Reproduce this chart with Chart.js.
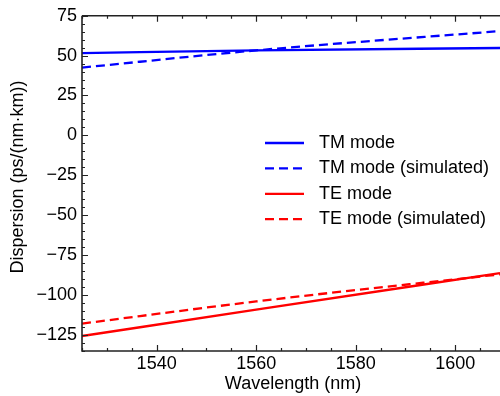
<!DOCTYPE html>
<html><head><meta charset="utf-8">
<script src="https://cdn.jsdelivr.net/npm/chart.js@4.4.0/dist/chart.umd.min.js"></script>
<style>html,body{margin:0;padding:0;background:#fff;overflow:hidden}#wrap{width:500px;height:396px;position:relative}</style>
</head><body><div id="wrap"><canvas id="c" width="500" height="396"></canvas></div>
<script>
const wavelengths = [1525, 1560, 1609];
const tmMode = [51.6, 53.3, 54.8];
const tmModeSim = [42.5, 53.3, 65.4];
const teMode = [-125.9, -109.4, -86.4];
const teModeSim = [-118.1, -104.2, -87.2];
const seriesLabels = ['TM mode', 'TM mode (simulated)', 'TE mode', 'TE mode (simulated)'];
const xTickValues = [1540, 1560, 1580, 1600];
const yTickValues = [75, 50, 25, 0, -25, -50, -75, -100, -125];
const xMinorStep = 5, yMinorStep = 5;
const xRange = [1525, 1609];
const yRange = [-135.3, 75];
const xTitle = 'Wavelength (nm)';
const yTitle = 'Dispersion (ps/(nm\u00b7km))';

const FONT = '"Liberation Sans", Arial, sans-serif';
const pts = (ys) => wavelengths.map((x, i) => ({x, y: ys[i]}));

const frameTicks = {
  id: 'frameTicks',
  afterDatasetsDraw(chart) {
    const {ctx, chartArea: a, scales: {x, y}} = chart;
    ctx.save();
    ctx.strokeStyle = '#222';
    ctx.lineWidth = 1.6;
    ctx.beginPath();
    ctx.moveTo(a.left, a.top); ctx.lineTo(a.right, a.top);
    ctx.moveTo(a.left, a.top); ctx.lineTo(a.left, a.bottom);
    ctx.lineTo(a.right, a.bottom);
    ctx.stroke();
    ctx.lineWidth = 1.2;
    ctx.beginPath();
    for (let v = Math.ceil(xRange[0] / xMinorStep) * xMinorStep; v <= xRange[1]; v += xMinorStep) {
      const px = Math.round(x.getPixelForValue(v)) + 0.5;
      const len = xTickValues.includes(v) ? 6 : 3;
      ctx.moveTo(px, a.bottom); ctx.lineTo(px, a.bottom - len);
      ctx.moveTo(px, a.top); ctx.lineTo(px, a.top + len);
    }
    for (let v = Math.ceil(yRange[0] / yMinorStep) * yMinorStep; v <= yRange[1]; v += yMinorStep) {
      const py = Math.round(y.getPixelForValue(v)) + 0.5;
      const len = yTickValues.includes(v) ? 6 : 3;
      ctx.moveTo(a.left, py); ctx.lineTo(a.left + len, py);
    }
    ctx.stroke();
    ctx.fillStyle = '#000';
    ctx.font = '18px ' + FONT;
    ctx.textAlign = 'center';
    ctx.textBaseline = 'middle';
    ctx.fillText(xTitle, (a.left + a.right) / 2 + 2, 384);
    ctx.translate(18, 177);
    ctx.rotate(-Math.PI / 2);
    ctx.fillText(yTitle, 0, 0);
    ctx.restore();
  }
};

const innerLegend = {
  id: 'innerLegend',
  afterDraw(chart) {
    const {ctx} = chart;
    ctx.save();
    ctx.font = '18px ' + FONT;
    ctx.textAlign = 'left';
    ctx.textBaseline = 'middle';
    chart.data.datasets.forEach((ds, i) => {
      const yy = 143 + i * 25.4;
      ctx.strokeStyle = ds.borderColor;
      ctx.lineWidth = ds.borderWidth;
      ctx.setLineDash(ds.borderDash || []);
      ctx.beginPath(); ctx.moveTo(265, yy); ctx.lineTo(304, yy); ctx.stroke();
      ctx.setLineDash([]);
      ctx.fillStyle = '#000';
      ctx.fillText(ds.label, 319, yy);
    });
    ctx.restore();
  }
};

new Chart(document.getElementById('c'), {
  type: 'line',
  data: {
    datasets: [
      {label: seriesLabels[0], data: pts(tmMode), borderColor: '#0000ff', borderWidth: 2.3, pointRadius: 0, cubicInterpolationMode: 'monotone'},
      {label: seriesLabels[1], data: pts(tmModeSim), borderColor: '#0000ff', borderWidth: 2.3, borderDash: [9, 5], pointRadius: 0, cubicInterpolationMode: 'monotone'},
      {label: seriesLabels[2], data: pts(teMode), borderColor: '#ff0000', borderWidth: 2.3, pointRadius: 0, cubicInterpolationMode: 'monotone'},
      {label: seriesLabels[3], data: pts(teModeSim), borderColor: '#ff0000', borderWidth: 2.3, borderDash: [9, 5], pointRadius: 0, cubicInterpolationMode: 'monotone'}
    ]
  },
  options: {
    responsive: false,
    animation: false,
    devicePixelRatio: 1,
    layout: {padding: {top: 15, right: 0, left: 0, bottom: 0}},
    plugins: {legend: {display: false}, tooltip: {enabled: false}},
    scales: {
      x: {
        type: 'linear', min: xRange[0], max: xRange[1],
        grid: {display: false, drawTicks: false},
        border: {display: false},
        afterBuildTicks: (s) => { s.ticks = xTickValues.map(v => ({value: v})); },
        afterFit: (s) => { s.height = 45; },
        ticks: {color: '#000', font: {size: 18, family: FONT}, padding: 2, maxRotation: 0,
          callback: (v) => String(v)}
      },
      y: {
        type: 'linear', min: yRange[0], max: yRange[1],
        grid: {display: false, drawTicks: false},
        border: {display: false},
        afterBuildTicks: (s) => { s.ticks = yTickValues.map(v => ({value: v})); },
        afterFit: (s) => { s.width = 82; },
        ticks: {color: '#000', font: {size: 18, family: FONT}, padding: 5,
          callback: (v) => v < 0 ? '\u2212' + Math.abs(v) : String(v)}
      }
    }
  },
  plugins: [frameTicks, innerLegend]
});
</script></body></html>
